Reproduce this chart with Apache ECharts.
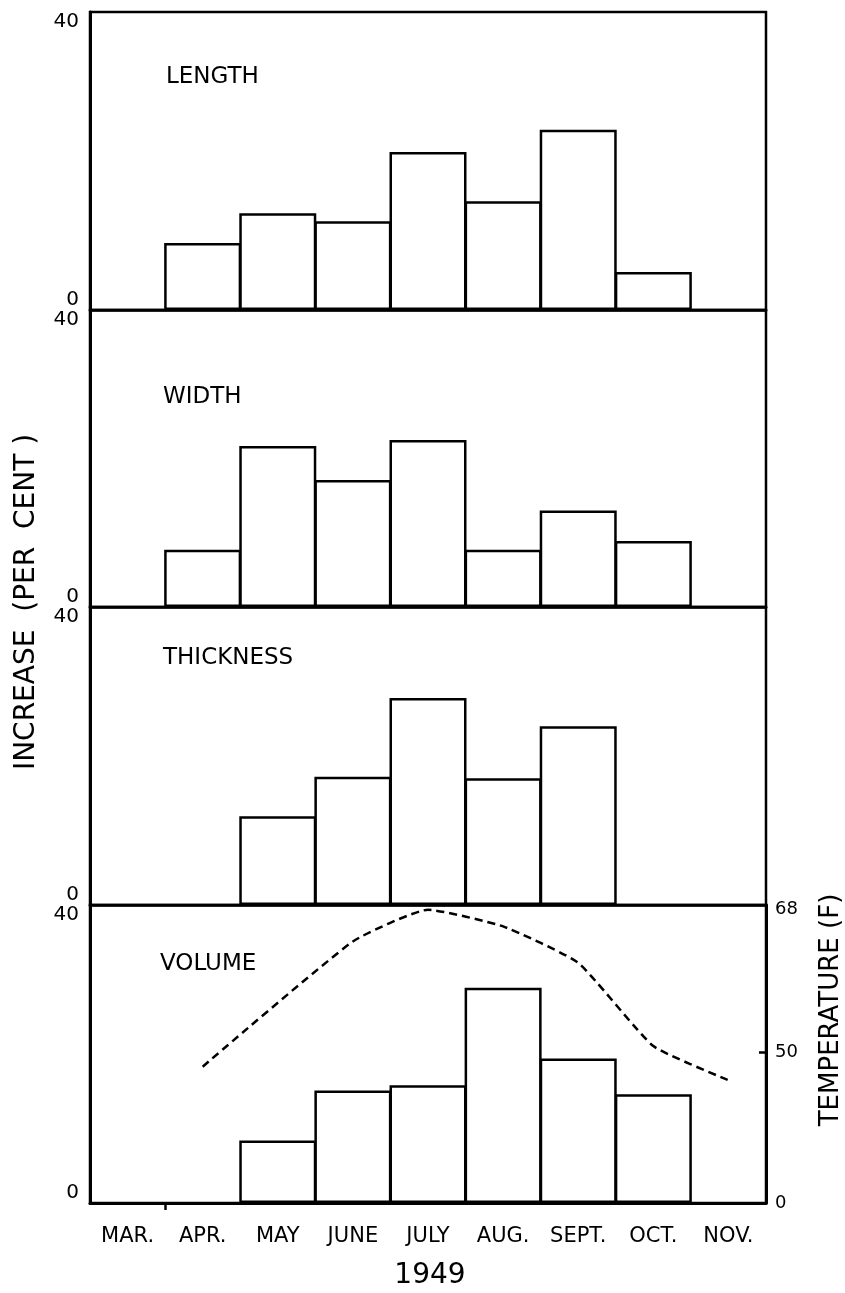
<!DOCTYPE html>
<html>
<head>
<meta charset="utf-8">
<script src="https://cdn.jsdelivr.net/npm/echarts@6/dist/echarts.min.js"></script>
<style>
html,body{margin:0;padding:0;background:#fff;}
#chart{width:845px;height:1293px;}
</style>
</head>
<body>
<div id="chart"></div>
<script>
// ---- data ----
const months = ['MAR.', 'APR.', 'MAY', 'JUNE', 'JULY', 'AUG.', 'SEPT.', 'OCT.', 'NOV.'];
const lengthPct    = [null, 9.0, 13.0, 11.9, 21.2, 14.6, 24.2, 5.1, null];
const widthPct     = [null, 7.7, 21.7, 17.1, 22.5, 7.7, 13.0, 8.9, null];
const thicknessPct = [null, null, 11.9, 17.2, 27.8, 17.0, 24.0, null, null];
const volumePct    = [null, null, 8.4, 15.1, 15.8, 28.9, 19.4, 14.6, null];
const temperatureF = [null, 48.2, null, 64.0, 68.0, 65.9, 61.3, 50.8, 46.5];
const panelNames = ['LENGTH', 'WIDTH', 'THICKNESS', 'VOLUME'];
const pctTickValues = [0, 40];
// temperature axis is broken: bottom of panel is labelled 0
const tempTickValues = [31, 50, 68];
const tempTickLabels = ['0', '50', '68'];
const yearLabel = '1949';
const leftTitle = 'INCREASE  (PER  CENT )';
const rightTitle = 'TEMPERATURE (F)';

const FONT = 'DejaVu Sans';
const panelSeries = [lengthPct, widthPct, thicknessPct, volumePct];
const gridTops = [12, 310, 607, 905];
const gridHeights = [298, 297, 298, 298];

const grids = [], xAxes = [], yAxes = [], series = [];
gridTops.forEach(function (t, i) {
  grids.push({ left: 90, width: 676, top: t, height: gridHeights[i], show: true,
    borderColor: '#000', borderWidth: 2.5, backgroundColor: 'transparent' });
  const last = i === 3;
  xAxes.push({
    type: 'category', gridIndex: i, data: months, boundaryGap: true,
    axisLine: { show: true, lineStyle: { color: '#000', width: last ? 3 : 2.5 } },
    axisTick: { show: false },
    axisLabel: { show: last, color: '#000', fontFamily: FONT, fontSize: 21, margin: 23, interval: 0 },
    splitLine: { show: false }
  });
  yAxes.push({
    type: 'value', gridIndex: i, min: pctTickValues[0], max: pctTickValues[1], interval: 40,
    position: 'left',
    axisLine: { show: true, lineStyle: { color: '#000', width: 3 } },
    axisTick: { show: false },
    splitLine: { show: false },
    axisLabel: { color: '#000', fontFamily: FONT, fontSize: 20, margin: 11,
      verticalAlignMinLabel: 'bottom', verticalAlignMaxLabel: 'top' }
  });
  series.push({
    type: 'bar', xAxisIndex: i, yAxisIndex: i, data: panelSeries[i],
    barWidth: 77, barGap: '0%',
    itemStyle: { color: '#fff', borderColor: '#000', borderWidth: 2.5 },
    emphasis: { disabled: true }, silent: true, z: 3
  });
});

// single tick below the bottom axis, at the MAR./APR. boundary (slot 1 of 9)
xAxes.push({
  type: 'value', gridIndex: 3, min: 0, max: months.length, position: 'bottom',
  axisLine: { show: false }, axisLabel: { show: false }, splitLine: { show: false },
  axisTick: { show: true, length: 7, customValues: [1], lineStyle: { color: '#000', width: 2.5 } }
});

// temperature axis on the volume panel
yAxes.push({
  type: 'value', gridIndex: 3, min: 31, max: 68.6, position: 'right',
  axisLine: { show: true, lineStyle: { color: '#000', width: 3 } },
  axisTick: { show: true, inside: true, length: 7, customValues: [50], lineStyle: { color: '#000', width: 2.5 } },
  splitLine: { show: false },
  axisLabel: { color: '#000', fontFamily: FONT, fontSize: 18, margin: 9,
    customValues: tempTickValues,
    formatter: function (v) {
      const k = tempTickValues.indexOf(v);
      return k >= 0 ? tempTickLabels[k] : '';
    } }
});
series.push({
  type: 'line', xAxisIndex: 3, yAxisIndex: 4, data: temperatureF, connectNulls: true,
  symbol: 'none', smooth: 0.15,
  lineStyle: { color: '#000', width: 2.5, type: [8, 5] },
  silent: true, z: 4
});

const gfx = [];
const titlePos = [[166, 77], [163, 397], [163, 658], [160, 964]];
panelNames.forEach(function (n, i) {
  gfx.push({ type: 'text', x: titlePos[i][0], y: titlePos[i][1],
    style: { text: n, font: '23px "' + FONT + '"', fill: '#000', align: 'left', verticalAlign: 'middle' } });
});
gfx.push({ type: 'text', x: 27, y: 602, rotation: Math.PI / 2,
  style: { text: leftTitle, font: '28px "' + FONT + '"', fill: '#000', align: 'center', verticalAlign: 'middle' } });
gfx.push({ type: 'text', x: 831, y: 1010, rotation: Math.PI / 2,
  style: { text: rightTitle, font: '26px "' + FONT + '"', fill: '#000', align: 'center', verticalAlign: 'middle' } });
gfx.push({ type: 'text', x: 430, y: 1276,
  style: { text: yearLabel, font: '28px "' + FONT + '"', fill: '#000', align: 'center', verticalAlign: 'middle' } });

const chart = echarts.init(document.getElementById('chart'));
chart.setOption({
  backgroundColor: '#fff',
  animation: false,
  grid: grids,
  xAxis: xAxes,
  yAxis: yAxes,
  series: series,
  graphic: gfx
});
</script>
</body>
</html>
